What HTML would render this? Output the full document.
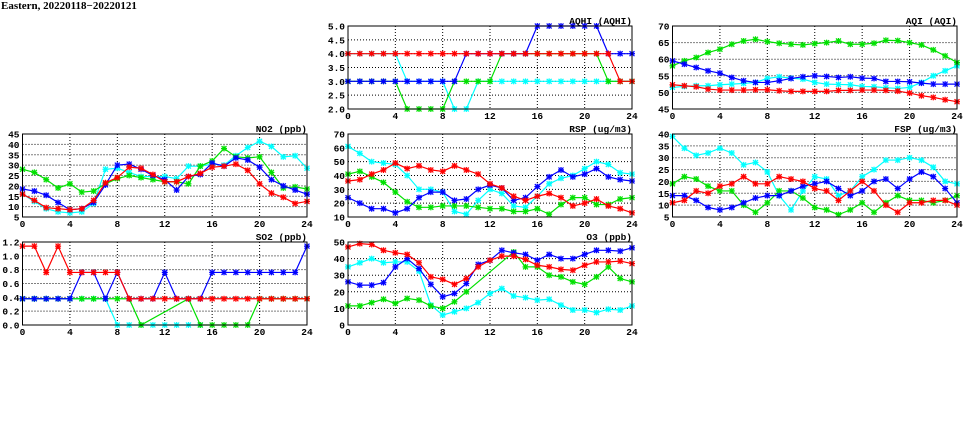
<!DOCTYPE html>
<html><head><meta charset="utf-8"><style>
html,body{margin:0;padding:0;background:#fff;width:975px;height:447px;overflow:hidden}
svg text{font-family:"Liberation Mono","DejaVu Sans Mono",monospace;font-weight:bold;font-size:9.5px;fill:#000}
</style></head><body>
<svg id="s" width="975" height="447" xmlns="http://www.w3.org/2000/svg">
<text x="1" y="9" style="font-family:'Liberation Serif',serif;font-size:11px">Eastern, 20220118−20220121</text>
</svg>
<script>
const N=null;
const C={r:"#ff0000",b:"#0000ff",g:"#00e000",c:"#00ffff"};
const panels=[
{t:"AQHI (AQHI)",x0:348,x1:632,y0:26,y1:109,min:2,max:5,step:0.5,dec:1,d:{
c:[4,4,4,4,4,3,3,3,3,2,2,3,3,3,3,3,3,3,3,3,3,3,3,3,3],
g:[3,3,3,3,3,2,2,2,2,3,3,3,3,4,4,4,4,4,4,4,4,4,3,3,3],
b:[3,3,3,3,3,3,3,3,3,3,4,4,4,4,4,4,5,5,5,5,5,5,4,4,4],
r:[4,4,4,4,4,4,4,4,4,4,4,4,4,4,4,4,4,4,4,4,4,4,4,3,3]}},
{t:"AQI (AQI)",x0:672.5,x1:957,y0:26,y1:109,min:45,max:70,step:5,dec:0,d:{
g:[58,59.5,60.5,62,63,64.5,65.5,66,65.3,64.8,64.5,64.3,64.7,65,65.5,64.5,64.5,64.8,65.7,65.6,65,64.3,62.8,61,59],
c:[51.5,51.8,52,52,52.3,52.5,52.7,53,54.2,54.7,54.3,54,53,52.5,52.4,52.3,51.8,51.7,51.4,51.2,51.5,53,55,56.5,58],
b:[59.5,58.5,57.5,56.5,55.8,54.5,53.5,53,53,53.5,54.2,54.7,55,54.8,54.5,54.7,54.3,54.2,53.3,53.3,53.2,52.8,52.5,52.5,52.5],
r:[52.3,52,51.7,51,50.7,50.7,50.7,50.8,50.8,50.5,50.3,50.3,50.3,50.3,50.6,50.6,50.7,50.7,50.6,50.4,49.8,49,48.5,47.8,47.2]}},
{t:"NO2 (ppb)",x0:22.5,x1:307,y0:134,y1:217,min:5,max:45,step:5,dec:0,d:{
g:[28,26.5,23,19,21,17,17.5,21,23.5,25,24,23,22,22,21,29.5,32,38,34,33.5,34,26.5,19,19.5,18.5],
c:[16,12.5,9,7.5,7,7.5,11.5,28,28.5,26.5,24.5,24.5,24.5,23.5,29.5,29.5,30.5,30,34.5,38.5,41.5,39,34,34.5,28.5],
b:[18.5,17.5,15.5,12,8.5,9,12,20.5,30,30.5,28,25,23,18,24.5,25.5,31,29.5,33.5,32.5,29,23,20,18,16],
r:[16,13,9.5,9,8.5,9,13,21.5,24,29,28.5,25.5,22,22,24.5,26,29,29.5,30.5,27.5,21,16.5,14.5,11.5,12.5]}},
{t:"RSP (ug/m3)",x0:348,x1:632,y0:134,y1:217,min:10,max:70,step:10,dec:0,d:{
c:[61,56,50,49,48,40,30,30,28,14,12,22,30,27,18,17,25,34,38,40,45,50,48,42,41],
g:[41,43,39,35,28,21,17,17,18,18,18,17,16,16,14,14,16,12,19,24,24,19,19,23,24],
r:[36,37,41,44,49,45,47,44,43,47,44,41,34,31,25,22,25,27,24,18,20,23,18,16,13],
b:[24,20,16,16,13,16,24,28,28,22,23,30,33,31,22,24,32,39,44,39,41,45,39,37,36]}},
{t:"FSP (ug/m3)",x0:672.5,x1:957,y0:134,y1:217,min:5,max:40,step:5,dec:0,d:{
c:[39,34,31,32,34,32,27,28,24,14,8,16,22,21,14,16,22,25,29,29,30,29,26,20,19],
g:[19,22,21,18,16,16,10,7,11,16,16,13,9,8,6,8,11,7,11,14,12,12,11,12,14],
r:[11,12,16,15,18,19,22,19,19,22,21,20,17,16,12,16,20,16,10,7,11,11,12,12,10],
b:[14,14,12,9,8,9,11,13,14,14,16,18,19,20,17,14,16,20,21,17,21,24,22,17,11]}},
{t:"SO2 (ppb)",x0:22.5,x1:307,y0:242,y1:325,min:0,max:1.2,step:0.2,dec:1,d:{
c:[.38,.38,.38,.38,.38,.38,.38,.38,0,0,0,0,0,0,0,0,N,N,N,N,N,N,N,N,N],
g:[.38,.38,.38,.38,.38,.38,.38,.38,.38,.38,0,N,N,N,.38,0,0,0,0,0,.38,.38,.38,.38,.38],
b:[.38,.38,.38,.38,.38,.76,.76,.38,.76,.38,.38,.38,.76,.38,.38,.38,.76,.76,.76,.76,.76,.76,.76,.76,1.14],
r:[1.14,1.14,.76,1.14,.76,.76,.76,.76,.76,.38,.38,.38,.38,.38,.38,.38,.38,.38,.38,.38,.38,.38,.38,.38,.38]}},
{t:"O3 (ppb)",x0:348,x1:632,y0:242,y1:325,min:0,max:50,step:10,dec:0,d:{
c:[35,37.5,40,37.5,38,38,32.5,12,6,8,10,13.5,19,22,17.5,16.5,15,15.5,12,9,9,7.5,9.5,9,11.5],
g:[11.5,11.5,13.5,15.5,13,16,15,11.5,10,14,20,N,N,N,44,35,35,30,29,26,24.5,29,35,28,26],
r:[47,49,48.5,45,43.5,42.5,37.5,29,27.5,24.5,28,35,39,41.5,41.5,39.5,36,35,33.5,33,36,38,38,38.5,37],
b:[26,24,24,25.5,35,40,34,24.5,17,19,25,36.5,39,45,43.5,42.5,39,42.5,40,40,42.5,45,45,44.5,46.5]}}
];
let h="";
for(const p of panels){
 const X=i=>p.x0+(p.x1-p.x0)*i/24, Y=v=>p.y1-(p.y1-p.y0)*(v-p.min)/(p.max-p.min);
 const n=Math.round((p.max-p.min)/p.step);
 for(let k=0;k<=n;k++){const v=p.min+k*p.step,y=Y(v);
  if(k>0&&k<n)h+=`<line x1="${p.x0}" y1="${y}" x2="${p.x1}" y2="${y}" stroke="#000" stroke-width="1" stroke-dasharray="1,2"/>`;
  h+=`<text x="${p.x0-3}" y="${y+3.5}" text-anchor="end">${v.toFixed(p.dec)}</text>`;}
 for(let i=0;i<=24;i+=4){const x=X(i);
  if(i>0&&i<24)h+=`<line x1="${x}" y1="${p.y0}" x2="${x}" y2="${p.y1}" stroke="#000" stroke-width="1" stroke-dasharray="1,2"/>`;
  h+=`<text x="${x}" y="${p.y1+10}" text-anchor="middle">${i}</text>`;}
 h+=`<text x="${p.x1}" y="${p.y0-2}" text-anchor="end">${p.t}</text>`;
 for(const k of ["c","g","b","r"]){const a=p.d[k];if(!a)continue;
  const pts=[];a.forEach((v,i)=>{if(v!==null)pts.push([X(i),Y(v)])});
  h+=`<polyline fill="none" stroke="${C[k]}" stroke-width="1.2" points="${pts.map(q=>q.join(",")).join(" ")}"/>`;
  for(const [x,y] of pts){
   h+=`<rect x="${x-2.5}" y="${y-2.5}" width="5" height="5" fill="${C[k]}" opacity="0.3"/>`;
   h+=`<path d="M${x-2.5} ${y-2.5}L${x+2.5} ${y+2.5}M${x-2.5} ${y+2.5}L${x+2.5} ${y-2.5}M${x-3} ${y}H${x+3}M${x} ${y-3}V${y+3}" stroke="${C[k]}" stroke-width="1.1"/>`;}
 }
 h+=`<rect x="${p.x0}" y="${p.y0}" width="${p.x1-p.x0}" height="${p.y1-p.y0}" fill="none" stroke="#000" stroke-width="1"/>`;
}
document.getElementById("s").insertAdjacentHTML("beforeend",h);
</script>
</body></html>
